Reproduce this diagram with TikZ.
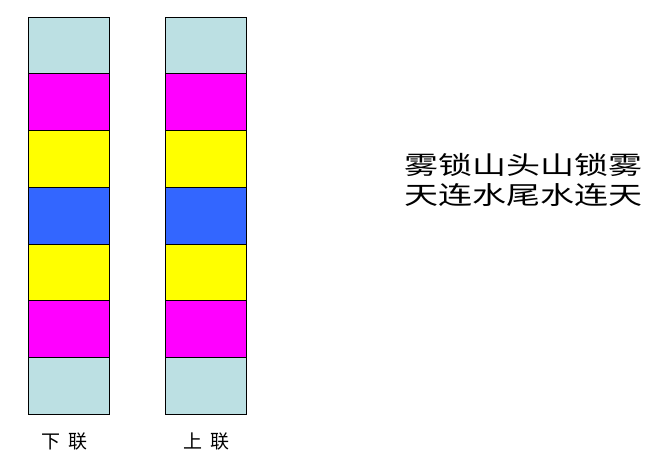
\documentclass[tikz,border=0pt]{standalone}
\usepackage{graphicx}
\usepackage{fontspec}
\newfontfamily\cjk{Noto Sans CJK SC}
\definecolor{paleblue}{RGB}{188,224,227}
\definecolor{midblue}{RGB}{51,102,255}
\definecolor{pink}{RGB}{255,0,255}
\definecolor{lemon}{RGB}{255,255,0}
\tikzset{
	cell/.style={draw=black, line width=1pt, minimum width=81pt, minimum height=56.7pt, inner sep=0pt},
	tag/.style={font=\cjk\fontsize{19pt}{19pt}\selectfont, inner sep=0pt},
	verse/.style={font=\cjk\fontsize{25pt}{25pt}\selectfont, inner sep=0pt}
}
\begin{document}
\begin{tikzpicture}[x=1pt, y=-1pt]
	\useasboundingbox (0,0) rectangle (667,473);
	% two columns of coloured cells
	\foreach \c [count=\i] in {paleblue, pink, lemon, midblue, lemon, pink, paleblue} {
		\node (L\i) at (69, 17.3+56.7*\i-28.35) [cell, fill=\c] {};
		\node (R\i) at (206.3, 17.3+56.7*\i-28.35) [cell, fill=\c] {};
	}
	\node (lower) at (64.7,441.7) [tag] {下\hspace{8pt}联};
	\node (upper) at (206.7,441.7) [tag] {上\hspace{8pt}联};
	\node (line1) at (523.5,165) [verse] {\scalebox{1.36}[1]{雾锁山头山锁雾}};
	\node (line2) at (523.5,195) [verse] {\scalebox{1.36}[1]{天连水尾水连天}};
\end{tikzpicture}
\end{document}
